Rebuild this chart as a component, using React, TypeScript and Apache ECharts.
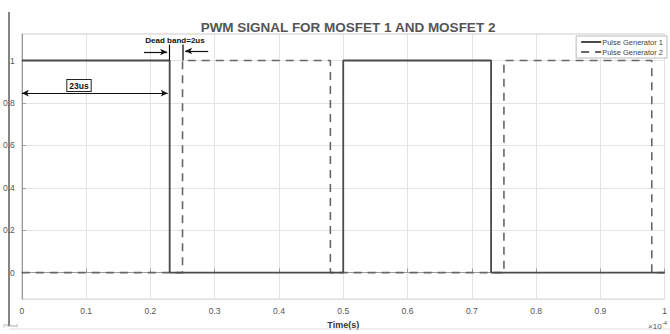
import React, { useEffect, useRef } from "react";
import * as echarts from "echarts";

const seriesNames = ["Pulse Generator 1", "Pulse Generator 2"];
// time in units of 1e-4 s
const pg1Time = [0, 0.23, 0.23, 0.5, 0.5, 0.73, 0.73, 1];
const pg1Value = [1, 1, 0, 0, 1, 1, 0, 0];
const pg2Time = [0, 0.25, 0.25, 0.48, 0.48, 0.75, 0.75, 0.98, 0.98, 1];
const pg2Value = [0, 0, 1, 1, 0, 0, 1, 1, 0, 0];
const yTicks = [0, 0.2, 0.4, 0.6, 0.8, 1];
const xTicks = [0, 0.1, 0.2, 0.3, 0.4, 0.5, 0.6, 0.7, 0.8, 0.9, 1];

const zip = (a: number[], b: number[]) => a.map((v, i) => [v, b[i]]);

export default function App() {
  const ref = useRef<HTMLDivElement>(null);
  useEffect(() => {
    const chart = echarts.init(ref.current!, null, { renderer: "svg" });
    const arrowLine = { color: "#111", width: 1.2, type: "solid" as const };
    chart.setOption({
      animation: false,
      backgroundColor: "#fff",
      title: {
        text: "PWM SIGNAL FOR MOSFET 1 AND MOSFET 2",
        left: 343,
        textAlign: "center",
        top: 15,
        textStyle: { fontFamily: "Liberation Sans, Arial", fontSize: 13.5, fontWeight: "bold", color: "#555" },
      },
      legend: {
        orient: "vertical",
        right: 3,
        top: 36,
        itemWidth: 20,
        itemHeight: 8,
        itemGap: 2,
        padding: [2, 4, 2, 4],
        backgroundColor: "#fff",
        borderColor: "#bbb",
        borderWidth: 1,
        itemStyle: { opacity: 0 },
        textStyle: { fontFamily: "Liberation Sans, Arial", fontSize: 7.5, color: "#444", padding: [0, 0, 0, -4] },
        data: seriesNames,
      },
      grid: { left: 21, right: 3, top: 34, bottom: 31, show: true, borderColor: "#ccc", borderWidth: 1 },
      xAxis: {
        type: "value",
        min: xTicks[0],
        max: xTicks[xTicks.length - 1],
        interval: 0.1,
        axisLine: { show: true, lineStyle: { color: "#999" } },
        axisTick: { show: true, inside: true, length: 4, lineStyle: { color: "#999" } },
        splitLine: { show: true, lineStyle: { color: "#e3e3e3" } },
        axisLabel: { fontFamily: "Liberation Sans, Arial", fontSize: 8.5, color: "#555", margin: 7 },
        name: "Time(s)",
        nameLocation: "middle",
        nameGap: 17,
        nameTextStyle: { fontFamily: "Liberation Sans, Arial", fontSize: 9, fontWeight: "bold", color: "#333" },
      },
      yAxis: {
        type: "value",
        min: -0.125,
        max: 1.125,
        axisLine: { show: true, lineStyle: { color: "#999" } },
        axisTick: { show: true, inside: true, length: 4, customValues: yTicks, lineStyle: { color: "#999" } },
        splitLine: { show: true, customValues: yTicks, lineStyle: { color: "#e3e3e3" } },
        axisLabel: {
          customValues: yTicks,
          fontFamily: "Liberation Sans, Arial",
          fontSize: 8.5,
          color: "#555",
          margin: 7,
          formatter: (v: number) => String(Math.round(v * 10) / 10),
        },
      },
      graphic: [
        { type: "line", z: 100, shape: { x1: 9, y1: 12, x2: 9, y2: 326 }, style: { stroke: "#333", lineWidth: 1.2 } },
        { type: "line", z: 100, shape: { x1: 9, y1: 329, x2: 670, y2: 329 }, style: { stroke: "#ddd", lineWidth: 1 } },
        { type: "text", z: 100, x: 3, y: 323, style: { text: "(Plotted)", fontSize: 4, fill: "#999" } },
        {
          type: "text",
          z: 100,
          x: 667,
          y: 320,
          style: {
            text: "×10{s|-4}",
            align: "right",
            fontFamily: "Liberation Sans, Arial",
            fontSize: 8,
            fill: "#555",
            rich: { s: { fontSize: 6, verticalAlign: "top", fill: "#555", padding: [0, 0, 6, 0] } },
          },
        },
        {
          type: "text",
          z: 100,
          x: 175,
          y: 36,
          style: {
            text: "Dead band=2us",
            align: "center",
            fontFamily: "Liberation Sans, Arial",
            fontSize: 8,
            fontWeight: "bold",
            fill: "#111",
          },
        },
        {
          type: "text",
          z: 100,
          x: 79,
          y: 80,
          style: {
            text: "23us",
            align: "center",
            fontFamily: "Liberation Sans, Arial",
            fontSize: 8.5,
            fontWeight: "bold",
            fill: "#111",
            borderColor: "#222",
            borderWidth: 1,
            backgroundColor: "#fff",
            padding: [1, 2, 1, 2],
          },
        },
      ],
      series: [
        {
          name: seriesNames[0],
          type: "line",
          data: zip(pg1Time, pg1Value),
          symbol: "none",
          lineStyle: { color: "#4a4a4a", width: 1.8, type: "solid" },
          itemStyle: { color: "#4a4a4a" },
          z: 3,
          markLine: {
            silent: true,
            label: { show: false },
            lineStyle: arrowLine,
            symbol: ["none", "none"],
            data: [
              [
                { coord: [0, 0.846], symbol: "arrow", symbolSize: [5, 7] },
                { coord: [0.227, 0.846], symbol: "arrow", symbolSize: [5, 7] },
              ],
              [
                { coord: [0.19, 1.04], symbol: "none" },
                { coord: [0.226, 1.04], symbol: "arrow", symbolSize: [5, 7] },
              ],
              [
                { coord: [0.29, 1.045], symbol: "none" },
                { coord: [0.254, 1.045], symbol: "arrow", symbolSize: [5, 7] },
              ],
              [
                { coord: [0.23, 1], symbol: "none" },
                { coord: [0.23, 1.075], symbol: "none" },
              ],
              [
                { coord: [0.25, 1], symbol: "none", lineStyle: { color: "#333", width: 1.5 } },
                { coord: [0.25, 1.075], symbol: "none" },
              ],
            ],
          },
        },
        {
          name: seriesNames[1],
          type: "line",
          data: zip(pg2Time, pg2Value),
          symbol: "none",
          lineStyle: { color: "#666", width: 1.6, type: [8, 6] },
          itemStyle: { color: "#666" },
          z: 2,
        },
      ],
    });
    return () => chart.dispose();
  }, []);
  return <div ref={ref} style={{ width: 670, height: 334, position: "absolute", left: 0, top: 0 }} />;
}
